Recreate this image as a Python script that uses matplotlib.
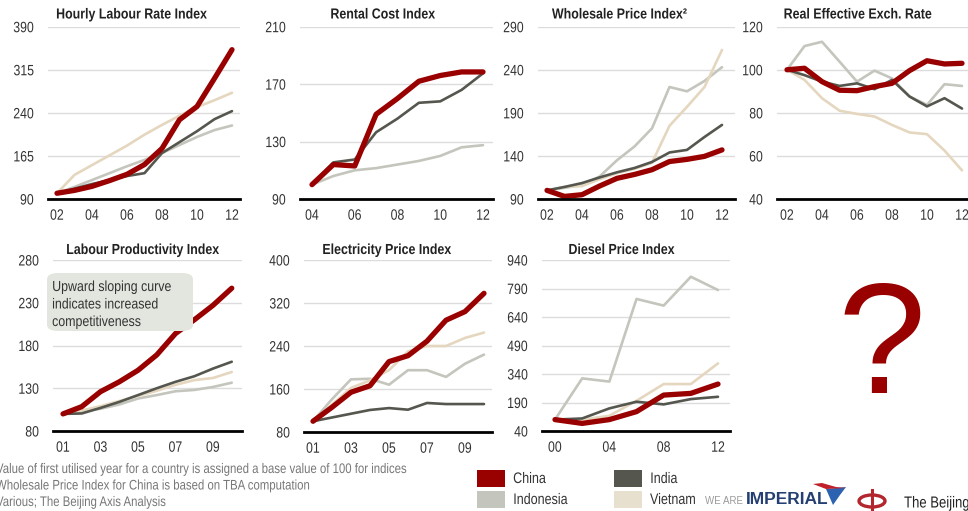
import matplotlib
matplotlib.use("Agg")
import matplotlib.pyplot as plt
from matplotlib.patches import Rectangle, FancyBboxPatch, Ellipse, Polygon
from matplotlib.lines import Line2D
from matplotlib.patheffects import AbstractPathEffect
from matplotlib.transforms import Affine2D

plt.rcParams['font.family'] = ['Liberation Sans', 'DejaVu Sans']

W, H = 968, 511
DPI = 100

RED = '#990000'
INDIA_C = '#55574f'
INDO_C = '#c4c6bd'
VIET_C = '#e5d7bf'
GRID = '#dcdcdc'

# ---- data -------------------------------------------------------------
# Hourly labour rate index, 2002-2012
hl_years = [2, 3, 4, 5, 6, 7, 8, 9, 10, 11, 12]
hl_china = [100, 105, 112, 122, 133, 150, 178, 228, 251, 300, 350]
hl_india = [100, 108, 116, 123, 130, 135, 170, 189, 208, 229, 243]
hl_indonesia = [100, 111, 123, 135, 147, 158, 170, 184, 198, 210, 218]
hl_vietnam = [100, 132, 149, 166, 183, 202, 219, 235, 250, 262, 275]

# Rental cost index, 2004-2012
rc_years = [4, 5, 6, 7, 8, 9, 10, 11, 12]
rc_china = [100, 114, 113, 149, 160, 172, 176, 178.5, 178.5]
rc_india = [100, 115.5, 117.5, 136.5, 146, 157, 158, 166, 177.5]
rc_indonesia = [100, 106, 110, 111.5, 114, 116.5, 120, 126, 127.5]

# Wholesale price index, 2002-2012
wp_years = [2, 3, 4, 5, 6, 7, 8, 9, 10, 11, 12]
wp_china = [100, 93, 95, 105, 114, 118.5, 124, 133.5, 136, 139.5, 147]
wp_india = [100, 104, 108.5, 115, 121, 126, 133, 144, 147, 162, 176]
wp_indonesia = [100, 103, 106, 116, 135, 151, 172, 220, 215, 227, 243]
wp_vietnam = [100, 104, 105, 113, 120, 125, 132, 175, 197, 220, 263]

# Real effective exchange rate, 2002-2012
re_years = [2, 3, 4, 5, 6, 7, 8, 9, 10, 11, 12]
re_china = [100, 100.7, 94.5, 90.5, 90.3, 92.2, 93.7, 99.6, 104.2, 102.7, 103]
re_india = [100, 97.5, 94.5, 92.5, 93.7, 91, 95.3, 87.6, 83, 86.8, 82]
re_indonesia = [100, 111, 113, 103.8, 94.5, 99.6, 96, 87.6, 83.7, 93.3, 92.5]
re_vietnam = [100, 95.3, 86.8, 81, 79.5, 78.3, 74.4, 70.9, 70.1, 62.5, 53.3]

# Labour productivity index, 2001-2010
lp_years = [1, 2, 3, 4, 5, 6, 7, 8, 9, 10]
lp_china = [100, 108.5, 126, 137.5, 151, 169, 194, 210, 227, 247]
lp_india = [100, 100.5, 107, 114, 122, 130, 137.5, 144, 153, 161]
lp_indonesia = [100, 103, 106, 111, 118, 122, 126.5, 128, 131.5, 136.5]
lp_vietnam = [100, 104, 109, 115, 121, 127, 134, 139.5, 142, 149]

# Electricity price index, 2001-2010
ep_years = [1, 2, 3, 4, 5, 6, 7, 8, 9, 10]
ep_china = [100, 126, 154, 166, 211, 222, 249, 288, 304, 338]
ep_india = [100, 107, 114, 121, 124.5, 121.5, 134, 132, 132, 132]
ep_indonesia = [100, 141, 178, 179, 168, 195, 195, 182.5, 207, 224]
ep_vietnam = [100, 131, 162, 176, 195, 230, 240, 240, 255, 265]

# Diesel price index, 2000-2012 (two-year steps)
dp_years = [0, 2, 4, 6, 8, 10, 12]
dp_china = [100, 80, 100, 142, 229, 238, 287]
dp_india = [100, 106, 159, 194, 180, 208, 220]
dp_indonesia = [100, 317, 300, 735, 700, 852, 782]
dp_vietnam = [100, 100, 120, 199, 287, 287, 396]

countries = ['China', 'India', 'Indonesia', 'Vietnam']
colors = {'China': RED, 'India': INDIA_C, 'Indonesia': INDO_C, 'Vietnam': VIET_C}

panels = [
    dict(title='Hourly Labour Rate Index', x=hl_years,
         series={'Indonesia': hl_indonesia, 'Vietnam': hl_vietnam, 'India': hl_india, 'China': hl_china},
         yticks=[90, 165, 240, 315, 390], xticks=[2, 4, 6, 8, 10, 12],
         box=(48, 240, 26.7, 199), tx=132, ty=14.5),
    dict(title='Rental Cost Index', x=rc_years,
         series={'Indonesia': rc_indonesia, 'India': rc_india, 'China': rc_china},
         yticks=[90, 130, 170, 210], xticks=[4, 6, 8, 10, 12],
         box=(300, 493, 26.7, 199), tx=383, ty=14.5),
    dict(title='Wholesale Price Index\u00b2', x=wp_years,
         series={'Indonesia': wp_indonesia, 'Vietnam': wp_vietnam, 'India': wp_india, 'China': wp_china},
         yticks=[90, 140, 190, 240, 290], xticks=[2, 4, 6, 8, 10, 12],
         box=(538, 735, 26.7, 199), tx=620, ty=14.5),
    dict(title='Real Effective Exch. Rate', x=re_years,
         series={'Vietnam': re_vietnam, 'Indonesia': re_indonesia, 'India': re_india, 'China': re_china},
         yticks=[40, 60, 80, 100, 120], xticks=[2, 4, 6, 8, 10, 12],
         box=(777, 975, 26.7, 199), tx=858, ty=14.5),
    dict(title='Labour Productivity Index', x=lp_years,
         series={'Indonesia': lp_indonesia, 'Vietnam': lp_vietnam, 'India': lp_india, 'China': lp_china},
         yticks=[80, 130, 180, 230, 280], xticks=[1, 3, 5, 7, 9],
         box=(53, 242, 260, 431), tx=143, ty=250),
    dict(title='Electricity Price Index', x=ep_years,
         series={'India': ep_india, 'Indonesia': ep_indonesia, 'Vietnam': ep_vietnam, 'China': ep_china},
         yticks=[80, 160, 240, 320, 400], xticks=[1, 3, 5, 7, 9],
         box=(304, 492, 260, 432), tx=387, ty=250),
    dict(title='Diesel Price Index', x=dp_years,
         series={'Indonesia': dp_indonesia, 'Vietnam': dp_vietnam, 'India': dp_india, 'China': dp_china},
         yticks=[40, 190, 340, 490, 640, 790, 940], xticks=[0, 4, 8, 12],
         box=(542, 730, 260, 431), tx=622, ty=250),
]

# first/last tick pixel positions used to set the x-range of each panel
xpix = [(57, 232), (312, 483), (547, 722), (787, 962), (63, 213), (313, 465), (555, 718)]


class Condense(AbstractPathEffect):
    """Squeeze text glyphs horizontally to get a narrow face."""

    def __init__(self, sx=0.82, anchor='center'):
        super().__init__()
        self.sx = sx
        self.anchor = anchor

    def draw_path(self, renderer, gc, tpath, affine, rgbFace=None):
        ext = tpath.get_extents(affine)
        if self.anchor == 'left':
            cx = ext.x0
        elif self.anchor == 'right':
            cx = ext.x1
        else:
            cx = 0.5 * (ext.x0 + ext.x1)
        squeeze = Affine2D().translate(-cx, 0).scale(self.sx, 1).translate(cx, 0)
        renderer.draw_path(gc, tpath, affine + squeeze, rgbFace)


def narrow(anchor='center', sx=0.82):
    return [Condense(sx, anchor)]


def fx(px):
    return px / W


def fy(py):
    return 1 - py / H


fig = plt.figure(figsize=(W / DPI, H / DPI), dpi=DPI)
fig.patch.set_facecolor('white')

for p, (p0, p1) in zip(panels, xpix):
    l, r, t, b = p['box']
    ax = fig.add_axes([fx(l), fy(b), (r - l) / W, (b - t) / H])
    x0, x1 = p['xticks'][0], p['xticks'][-1]
    scale = (x1 - x0) / (p1 - p0)
    ax.set_xlim(x0 - (p0 - l) * scale, x1 + (r - p1) * scale)
    ax.set_ylim(p['yticks'][0], p['yticks'][-1])
    ax.set_yticks(p['yticks'])
    ax.set_yticklabels([str(v) for v in p['yticks']])
    ax.set_xticks(p['xticks'])
    ax.set_xticklabels(['%02d' % v for v in p['xticks']])
    ax.grid(axis='y', color=GRID, lw=1.0)
    ax.set_axisbelow(True)
    for s in ['top', 'right', 'left']:
        ax.spines[s].set_visible(False)
    ax.spines['bottom'].set_linewidth(2.0)
    ax.spines['bottom'].set_color('black')
    ax.spines['bottom'].set_zorder(5)
    ax.tick_params(length=0, labelsize=10.8, colors='#333333')
    ax.tick_params(axis='y', pad=10)
    ax.tick_params(axis='x', pad=7)
    for lab in ax.get_xticklabels():
        lab.set_path_effects(narrow('center'))
    for lab in ax.get_yticklabels():
        lab.set_path_effects(narrow('right'))
    for name, vals in p['series'].items():
        lw = 3.8 if name == 'China' else 1.9
        ax.plot(p['x'], vals, color=colors[name], lw=lw, solid_capstyle='round',
                solid_joinstyle='round', zorder=4 if name == 'China' else 3, clip_on=False)
    ax.patch.set_alpha(0)
    fig.text(fx(p['tx']), fy(p['ty']), p['title'], ha='center', va='center',
             fontsize=10.5, fontweight='bold', color='#222222',
             path_effects=narrow('center', 0.85))

# annotation box in the productivity panel
box = FancyBboxPatch((fx(47), fy(331)), fx(193) - fx(47), fy(273) - fy(331),
                     boxstyle='round,pad=0,rounding_size=0.012', transform=fig.transFigure,
                     facecolor='#e3e6df', edgecolor='none', zorder=6)
fig.patches.append(box)
for i, line in enumerate(['Upward sloping curve', 'indicates increased', 'competitiveness']):
    fig.text(fx(52), fy(287 + 17.5 * i), line, ha='left', va='center', fontsize=10.5,
             color='#333333', zorder=7, path_effects=narrow('left', 0.85))

# question mark in the empty slot
fig.text(fx(882), fy(393), '?', ha='center', va='baseline', fontsize=114,
         color=RED)

# footnotes
notes = ['Value of first utilised year for a country is assigned a base value of 100 for indices',
         'Wholesale Price Index for China is based on TBA computation',
         'Various; The Beijing Axis Analysis']
for i, n in enumerate(notes):
    fig.text(fx(-4), fy(469 + 16.5 * i), n, ha='left', va='center', fontsize=10,
             color='#777777', path_effects=narrow('left'))

# legend
leg = [('China', 477, 470), ('India', 614, 470), ('Indonesia', 477, 491), ('Vietnam', 614, 491)]
for name, lx, ly in leg:
    fig.patches.append(Rectangle((fx(lx), fy(ly + 17)), 28 / W, 17 / H, transform=fig.transFigure,
                                 facecolor=colors[name] if name != 'Vietnam' else '#e8e0cf',
                                 edgecolor='none'))
    fig.text(fx(lx + 36), fy(ly + 9), name, ha='left', va='center', fontsize=11,
             color='#333333', path_effects=narrow('left'))

# logos
fig.text(fx(705), fy(501), 'WE ARE', ha='left', va='center', fontsize=7, color='#9a9a9a')
fig.text(fx(746), fy(500), 'IMPERIAL', ha='left', va='center', fontsize=12.5,
         fontweight='bold', color='#243f72')
fig.patches.append(Polygon([[fx(826), fy(489)], [fx(846), fy(487)], [fx(840), fy(495)], [fx(833), fy(505)]],
                           closed=True, transform=fig.transFigure, facecolor='#2c62b0', edgecolor='none'))
fig.patches.append(Polygon([[fx(813), fy(484)], [fx(822), fy(483)], [fx(836), fy(487)], [fx(846), fy(488)], [fx(826), fy(489)]],
                           closed=True, transform=fig.transFigure, facecolor='#c0202a', edgecolor='none'))
fig.patches.append(Ellipse((fx(872), fy(501)), 26 / W, 12 / H, transform=fig.transFigure,
                           facecolor='none', edgecolor='#b3262e', lw=2.4))
fig.lines.append(Line2D([fx(872), fx(872)], [fy(490), fy(512)], transform=fig.transFigure,
                        color='#b3262e', lw=2.2))
fig.text(fx(904), fy(503), 'The Beijing', ha='left', va='center', fontsize=11.5,
         color='#222222', path_effects=narrow('left'))

fig.savefig('out.png', dpi=DPI, facecolor='white')
